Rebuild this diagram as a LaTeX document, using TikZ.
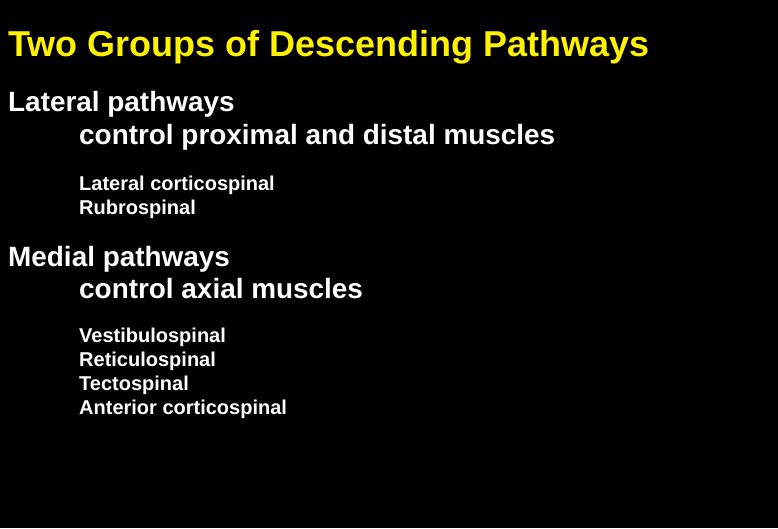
\documentclass[tikz,border=0pt]{standalone}
\usepackage{fontspec}
\setmainfont{Liberation Sans}
\begin{document}
\begin{tikzpicture}[x=1pt,y=-1pt,
  t/.style={anchor=base west,inner sep=0pt,text=white},
  big/.style={t,font=\fontsize{27.9}{30}\selectfont\bfseries},
  sm/.style={t,font=\fontsize{20}{22}\selectfont\bfseries}]
\fill[black] (0,0) rectangle (778,528);
\useasboundingbox (0,0) rectangle (778,528);
\node[t,text=yellow,font=\fontsize{36}{40}\selectfont\bfseries] (title) at (8,56) {Two Groups of Descending Pathways};
\node[big] (lp) at (8,111) {Lateral pathways};
\node[big] (lc) at (79,144) {control proximal and distal muscles};
\node[sm] (l1) at (79,190) {Lateral corticospinal};
\node[sm] (l2) at (79,214) {Rubrospinal};
\node[big] (mp) at (8,266) {Medial pathways};
\node[big] (mc) at (79,298) {control axial muscles};
\node[sm] (m1) at (79,342) {Vestibulospinal};
\node[sm] (m2) at (79,366) {Reticulospinal};
\node[sm] (m3) at (79,390) {Tectospinal};
\node[sm] (m4) at (79,414) {Anterior corticospinal};
\end{tikzpicture}
\end{document}
